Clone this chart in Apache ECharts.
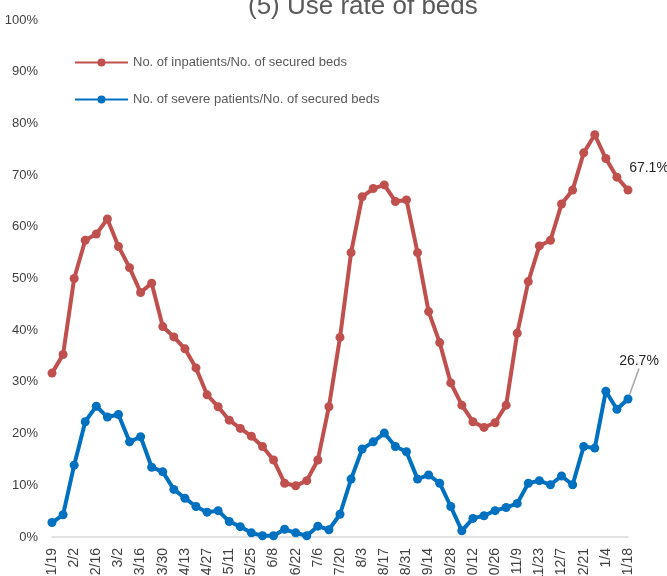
<!DOCTYPE html>
<html>
<head>
<meta charset="utf-8">
<script src="https://cdn.jsdelivr.net/npm/echarts@6/dist/echarts.min.js"></script>
<style>
  html, body { margin: 0; padding: 0; background: #ffffff; }
  #chart { width: 667px; height: 576px; }
</style>
</head>
<body>
<div id="chart"></div>
<script>
// Weekly dates (Wednesdays), Jan 19 through the following Jan 18
const weeks = [
  '1/19','1/26','2/2','2/9','2/16','2/23','3/2','3/9','3/16','3/23','3/30',
  '4/6','4/13','4/20','4/27','5/4','5/11','5/18','5/25','6/1','6/8','6/15',
  '6/22','6/29','7/6','7/13','7/20','7/27','8/3','8/10','8/17','8/24','8/31',
  '9/7','9/14','9/21','9/28','10/5','10/12','10/19','10/26','11/2','11/9',
  '11/16','11/23','11/30','12/7','12/14','12/21','12/28','1/4','1/11','1/18'
];

// Inpatients / secured beds (%)
const inpatientRate = [
  31.7, 35.3, 50.0, 57.4, 58.6, 61.5, 56.2, 52.1, 47.3, 49.1, 40.7,
  38.7, 36.4, 32.7, 27.5, 25.2, 22.6, 21.0, 19.5, 17.5, 14.9, 10.4,
  9.9, 10.9, 14.9, 25.2, 38.6, 55.0, 65.8, 67.4, 68.1, 64.9, 65.2,
  55.0, 43.6, 37.6, 29.8, 25.5, 22.3, 21.2, 22.1, 25.5, 39.4,
  49.4, 56.3, 57.4, 64.4, 67.1, 74.3, 77.8, 73.2, 69.6, 67.1
];

// Severe patients / secured beds (%)
const severeRate = [
  2.8, 4.3, 13.9, 22.3, 25.3, 23.2, 23.7, 18.4, 19.4, 13.5, 12.6,
  9.2, 7.5, 5.9, 4.8, 5.1, 3.0, 2.0, 0.8, 0.25, 0.25, 1.5,
  0.8, 0.25, 2.1, 1.4, 4.4, 11.2, 17.0, 18.4, 20.1, 17.5, 16.5,
  11.2, 12.0, 10.4, 5.9, 1.2, 3.6, 4.1, 5.1, 5.7, 6.5,
  10.4, 10.9, 10.1, 11.8, 10.1, 17.5, 17.2, 28.2, 24.7, 26.7
];

const seriesNames = [
  'No. of inpatients/No. of secured beds',
  'No. of severe patients/No. of secured beds'
];

const lastIdx = weeks.length - 1;
const textFont = 'Liberation Sans, Arial, sans-serif';

// Only the latest week carries a value label
function withEndLabel(values, withGuide) {
  return values.map((v, i) => {
    if (i !== lastIdx) return v;
    const item = {
      value: v,
      label: {
        show: true,
        position: 'top',
        formatter: p => p.value.toFixed(1) + '%',
        fontFamily: textFont,
        fontSize: 14,
        color: '#262626'
      }
    };
    if (withGuide) {
      item.labelLine = { show: true, lineStyle: { color: '#A6A6A6', width: 1.5 } };
    }
    return item;
  });
}

const chart = echarts.init(document.getElementById('chart'), null, { renderer: 'canvas' });

chart.setOption({
  animation: false,
  backgroundColor: '#ffffff',
  title: {
    text: '(5) Use rate of beds',
    left: 248,
    top: -6,
    padding: 0,
    textStyle: {
      fontFamily: textFont,
      fontSize: 26,
      fontWeight: 'normal',
      color: '#595959'
    }
  },
  legend: {
    orient: 'vertical',
    left: 69,
    top: 51,
    itemWidth: 53,
    itemHeight: 10,
    itemGap: 24,
    textStyle: { fontFamily: textFont, fontSize: 13, color: '#595959' },
    data: seriesNames
  },
  grid: {
    left: 52, right: 39, top: 20, bottom: 39,
    containLabel: false,
    outerBoundsMode: 'none'
  },
  xAxis: {
    type: 'category',
    data: weeks,
    boundaryGap: false,
    axisLine: { show: true, lineStyle: { color: '#D9D9D9', width: 1.5 } },
    axisTick: { show: false },
    axisLabel: {
      interval: 1,
      rotate: 90,
      margin: 11,
      fontFamily: textFont,
      fontSize: 14,
      color: '#404040'
    },
    splitLine: { show: false }
  },
  yAxis: {
    type: 'value',
    min: 0,
    max: 100,
    interval: 10,
    axisLine: { show: false },
    axisTick: { show: false },
    splitLine: { show: false },
    axisLabel: {
      formatter: '{value}%',
      margin: 14,
      fontFamily: textFont,
      fontSize: 13,
      color: '#404040'
    }
  },
  series: [
    {
      name: seriesNames[0],
      type: 'line',
      data: withEndLabel(inpatientRate, false),
      symbol: 'circle',
      symbolSize: 9,
      showAllSymbol: true,
      lineStyle: { color: '#C0504D', width: 4 },
      itemStyle: { color: '#C0504D' },
      label: { show: false },
      labelLayout: p => p.dataIndex === lastIdx ? { dx: 21, dy: -5 } : {}
    },
    {
      name: seriesNames[1],
      type: 'line',
      data: withEndLabel(severeRate, true),
      symbol: 'circle',
      symbolSize: 9,
      showAllSymbol: true,
      lineStyle: { color: '#0070C0', width: 4 },
      itemStyle: { color: '#0070C0' },
      label: { show: false },
      labelLayout: p => p.dataIndex === lastIdx ? { dx: 11, dy: -21 } : {}
    }
  ]
});
</script>
</body>
</html>
